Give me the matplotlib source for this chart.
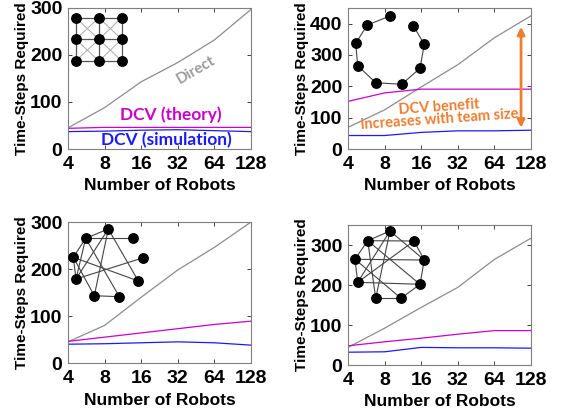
import numpy as np
import matplotlib.pyplot as plt

robots = [4, 8, 16, 32, 64, 128]

# time-steps per panel: direct, DCV theory, DCV simulation
direct = [
    [45, 88, 143, 184, 232, 297],
    [69, 125, 198, 269, 355, 425],
    [45, 80, 140, 198, 246, 300],
    [44, 92, 144, 194, 264, 317],
]
theory = [
    [44, 46, 46, 46, 46, 46],
    [152, 179, 191, 191, 191, 191],
    [46, 55, 64, 73, 82, 89],
    [48, 58, 67, 77, 86, 86],
]
simulation = [
    [37, 38, 40, 41, 39, 37],
    [43, 43, 53, 58, 58, 60],
    [40, 41, 43, 45, 43, 38],
    [32, 33, 44, 43, 43, 42],
]
ytops = [300, 450, 300, 350]
ytick_sets = [[0, 100, 200, 300], [0, 100, 200, 300, 400],
              [0, 100, 200, 300], [0, 100, 200, 300]]

# inset network drawings (figure pixel coordinates)
grid_x = [75.7, 99, 121.7]
grid_y = [17.7, 39.3, 61]
ring_nodes = [(390, 16), (413.3, 25.7), (424.3, 44.3), (420, 68.3), (401.7, 84.3),
              (375.7, 82.7), (357.7, 65.7), (355.7, 43.3), (367.3, 25)]
ring_edges = [(8, 0), (1, 2), (2, 3), (3, 4), (4, 5), (5, 6), (6, 7), (7, 8)]
rand1_nodes = [(108.3, 229), (132.7, 238.3), (143.3, 257.7), (138.3, 281), (119.3, 296.7),
               (94.3, 295.7), (76, 279), (73.3, 257.3), (85.7, 238.3)]
rand1_edges = [(8, 0), (8, 1), (0, 6), (0, 3), (7, 3), (6, 2), (8, 4), (8, 6),
               (7, 5), (5, 4), (7, 6), (7, 8), (0, 5)]
rand2_nodes = [(390, 231), (414, 241), (424.3, 260), (420, 284.3), (401, 298.3),
               (375.7, 298.3), (357.7, 282.3), (355, 259.3), (367.7, 240.7)]
rand2_edges = [(8, 0), (8, 1), (7, 2), (0, 2), (1, 2), (2, 3), (3, 4), (4, 5),
               (6, 7), (7, 8), (8, 3), (1, 6), (7, 4), (0, 5), (8, 5), (6, 3), (0, 6)]

W, H = 561, 415
fig = plt.figure(figsize=(W / 100, H / 100), dpi=100)

boxes = [(68, 8, 183, 141), (348, 8, 183, 141), (68, 222, 183, 141), (348, 225, 183, 140)]
tickfont = dict(family='Liberation Sans', weight='bold', size=14)
xlabelfont = dict(family='Liberation Sans', weight='bold', size=12.5)
ylabelfont = dict(family='Liberation Sans', weight='bold', size=11)
axes = []
for i, (x0, y0, w, h) in enumerate(boxes):
    ax = fig.add_axes([x0 / W, 1 - (y0 + h) / H, w / W, h / H])
    ax.plot(robots, direct[i], color='#8c8c8c', lw=0.9)
    ax.plot(robots, theory[i], color='#cc00cc', lw=0.9)
    ax.plot(robots, simulation[i], color='#1a1aff', lw=0.9)
    ax.set_xscale('log', base=2)
    ax.set_xlim(4, 128)
    ax.set_ylim(0, ytops[i])
    ax.set_xticks(robots)
    ax.set_xticklabels([str(r) for r in robots])
    ax.minorticks_off()
    ax.set_yticks(ytick_sets[i])
    ax.tick_params(direction='in', length=3, width=0.6, top=True, right=True,
                   colors='#262626')
    ax.tick_params(axis='x', pad=5)
    ax.tick_params(axis='y', pad=4)
    for lab in ax.get_xticklabels() + ax.get_yticklabels():
        lab.set(**tickfont, color='black')
    for s in ax.spines.values():
        s.set_color('#7f7f7f')
        s.set_linewidth(0.8)
    ax.set_xlabel('Number of Robots', fontdict=xlabelfont, labelpad=4)
    ax.set_ylabel('Time-Steps Required', fontdict=ylabelfont, labelpad=1)
    axes.append(ax)

a0 = axes[0]
a0.text(0.70, 0.56, 'Direct', transform=a0.transAxes, color='#9a9a9a', fontsize=11,
        family='Lato', weight='bold', rotation=30, ha='center', va='center')
a0.text(0.56, 0.24, 'DCV (theory)', transform=a0.transAxes, color='#cc00cc', fontsize=12.5,
        family='Lato', weight='bold', ha='center', va='center')
a0.text(0.54, 0.065, 'DCV (simulation)', transform=a0.transAxes, color='#1a1aff', fontsize=12.5,
        family='Lato', weight='bold', ha='center', va='center')

a1 = axes[1]
a1.annotate('', xy=(106, 390), xytext=(106, 68),
            arrowprops=dict(arrowstyle='<|-|>', color='#ed7d31', lw=2,
                            mutation_scale=11, shrinkA=0, shrinkB=0))
a1.text(0.50, 0.30, 'DCV benefit', transform=a1.transAxes, color='#ed7d31', fontsize=10.5,
        family='Lato', weight='bold', rotation=4, ha='center', va='center')
a1.text(0.50, 0.21, 'increases with team size', transform=a1.transAxes, color='#ed7d31',
        fontsize=10.5, family='Lato', weight='bold', rotation=4, ha='center', va='center')

# overlay in pixel coordinates for the network insets
ov = fig.add_axes([0, 0, 1, 1])
ov.set_xlim(0, W)
ov.set_ylim(H, 0)
ov.axis('off')
ov.patch.set_alpha(0)

gx, gy = np.meshgrid(grid_x, grid_y)
for r in range(3):
    ov.plot(grid_x, [grid_y[r]] * 3, color='#555555', lw=0.9, zorder=1)
    ov.plot([grid_x[r]] * 3, grid_y, color='#555555', lw=0.9, zorder=1)
for r in range(2):
    for c in range(2):
        ov.plot([grid_x[c], grid_x[c + 1]], [grid_y[r], grid_y[r + 1]], color='#aaaaaa', lw=0.7, zorder=1)
        ov.plot([grid_x[c + 1], grid_x[c]], [grid_y[r], grid_y[r + 1]], color='#aaaaaa', lw=0.7, zorder=1)
ov.plot(gx.ravel(), gy.ravel(), 'o', color='black', ms=6.8, zorder=2)

for nodes, edges in [(ring_nodes, ring_edges), (rand1_nodes, rand1_edges), (rand2_nodes, rand2_edges)]:
    for a, b in edges:
        ov.plot([nodes[a][0], nodes[b][0]], [nodes[a][1], nodes[b][1]], color='#444444', lw=0.8, zorder=1)
    xs, ys = zip(*nodes)
    ov.plot(xs, ys, 'o', color='black', ms=6.8, zorder=2)

fig.savefig('out.png', dpi=100)
